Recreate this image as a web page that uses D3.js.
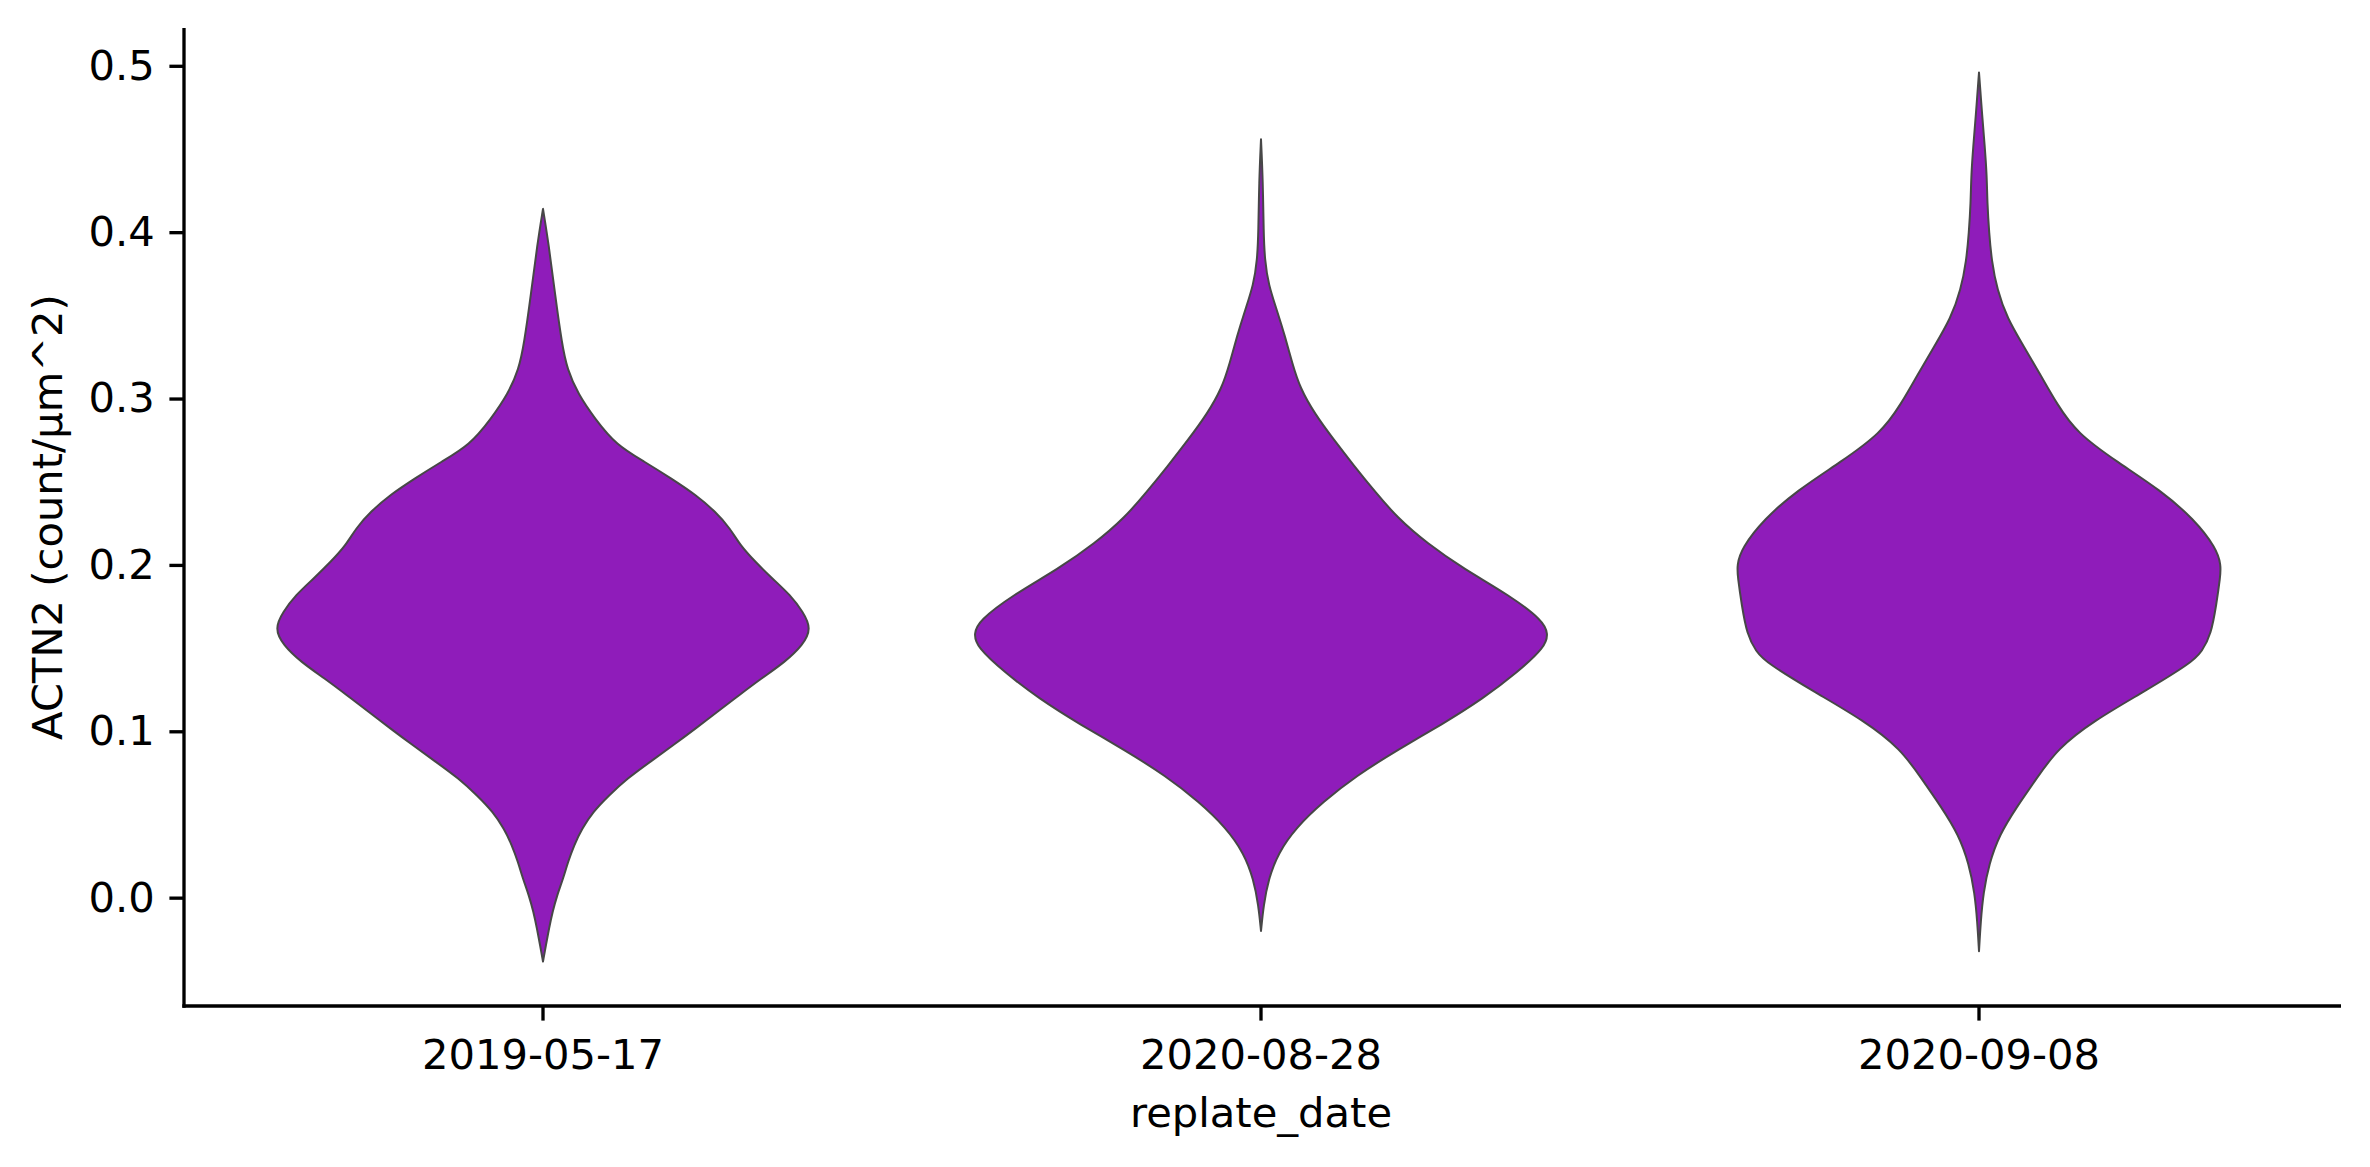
<!DOCTYPE html>
<html>
<head>
<meta charset="utf-8">
<script src="https://cdn.jsdelivr.net/npm/d3@7"></script>
<style>
  html, body { margin: 0; padding: 0; background: #fff; }
  svg { display: block; }
  text { font-family: "DejaVu Sans", sans-serif; fill: #000; }
</style>
</head>
<body>
<svg id="chart" width="2370" height="1167"></svg>
<script>
// ---- data ----
const categories = ["2019-05-17", "2020-08-28", "2020-09-08"];
const yTicks = [0.0, 0.1, 0.2, 0.3, 0.4, 0.5];
const xLabel = "replate_date";
const yLabel = "ACTN2 (count/\u00b5m^2)";

// kernel density profiles: [value, relative density]
const kde_2019_05_17 = [
  [0.414, 0], [0.3925, 0.020], [0.3626, 0.042], [0.3327, 0.066], [0.3177, 0.084],
  [0.3027, 0.122], [0.2878, 0.181], [0.2720, 0.255], [0.2620, 0.354], [0.2520, 0.446],
  [0.2420, 0.533], [0.2319, 0.601], [0.2219, 0.652], [0.2119, 0.686], [0.2019, 0.739],
  [0.1919, 0.798], [0.1818, 0.862], [0.1718, 0.905], [0.1618, 0.935], [0.1518, 0.905],
  [0.1417, 0.843], [0.1317, 0.760], [0.1217, 0.683], [0.1116, 0.606], [0.1016, 0.531],
  [0.0916, 0.453], [0.0816, 0.373], [0.0716, 0.293], [0.0615, 0.230], [0.0515, 0.174],
  [0.0415, 0.136], [0.0315, 0.108], [0.0214, 0.087], [0.0114, 0.070], [0.0014, 0.049],
  [-0.0087, 0.033], [-0.0186, 0.021], [-0.0287, 0.010], [-0.0384, 0]
];
const kde_2020_08_28 = [
  [0.4559, 0], [0.4304, 0.0066], [0.3994, 0.0091], [0.3839, 0.0129], [0.3683, 0.026],
  [0.3528, 0.056], [0.3372, 0.084], [0.3217, 0.108], [0.3062, 0.136], [0.2906, 0.188],
  [0.2751, 0.254], [0.2596, 0.324], [0.2440, 0.397], [0.2285, 0.474], [0.2130, 0.578],
  [0.1975, 0.707], [0.1819, 0.864], [0.1664, 0.983], [0.1586, 1.000], [0.1508, 0.990],
  [0.1353, 0.892], [0.1198, 0.774], [0.1042, 0.631], [0.0887, 0.474], [0.0731, 0.331],
  [0.0576, 0.216], [0.0421, 0.122], [0.0266, 0.059], [0.0110, 0.026], [-0.0045, 0.009],
  [-0.0200, 0]
];
const kde_2020_09_08 = [
  [0.4960, 0], [0.4691, 0.0115], [0.4518, 0.020], [0.4346, 0.027], [0.4173, 0.029],
  [0.4000, 0.035], [0.3828, 0.044], [0.3655, 0.063], [0.3483, 0.098], [0.3310, 0.157],
  [0.3137, 0.216], [0.2965, 0.272], [0.2792, 0.341], [0.2619, 0.481], [0.2447, 0.634],
  [0.2274, 0.749], [0.2102, 0.826], [0.1998, 0.843], [0.1929, 0.840], [0.1756, 0.826],
  [0.1584, 0.808], [0.1480, 0.777], [0.1411, 0.739], [0.1238, 0.575], [0.1065, 0.401],
  [0.0893, 0.272], [0.0720, 0.202], [0.0547, 0.132], [0.0375, 0.070], [0.0202, 0.035],
  [0.0029, 0.015], [-0.0143, 0.006], [-0.0322, 0]
];
const profiles = [kde_2019_05_17, kde_2020_08_28, kde_2020_09_08];

// ---- layout ----
const plot = { left: 184, right: 2338, top: 28, bottom: 1006 };
const fontPx = 41.67;
const lw = 3.33;
const tickLen = 14.6;
const tickPad = 14.6;
const fillColor = "#8f1cba";
const edgeColor = "#474747";

const svg = d3.select("#chart");

const x = d3.scaleBand().domain(categories).range([plot.left, plot.right]).padding(0);

const allVals = profiles.flat().map(d => d[0]);
const [vmin, vmax] = d3.extent(allVals);
const pad = (vmax - vmin) * 0.05;
const y = d3.scaleLinear().domain([vmin - pad, vmax + pad]).range([plot.bottom, plot.top]);

const maxDens = d3.max(profiles.flat(), d => d[1]);
const w = d3.scaleLinear().domain([0, maxDens]).range([0, x.bandwidth() * 0.4]);

// violins
categories.forEach((c, i) => {
  const cx = x(c) + x.bandwidth() / 2;
  const pts = profiles[i].slice().sort((a, b) => a[0] - b[0]);
  const area = d3.area()
    .curve(d3.curveBasis)
    .y(d => y(d[0]))
    .x0(d => cx - w(d[1]))
    .x1(d => cx + w(d[1]));
  svg.append("path")
    .attr("d", area(pts))
    .attr("fill", fillColor)
    .attr("stroke", edgeColor)
    .attr("stroke-width", 2)
    .attr("stroke-linejoin", "round");
});

// y axis
const yAxis = d3.axisLeft(y).tickValues(yTicks).tickFormat(d3.format(".1f"))
  .tickSize(tickLen).tickPadding(tickPad);
const gy = svg.append("g").attr("transform", `translate(${plot.left},0)`).call(yAxis);
gy.select(".domain").remove();
gy.selectAll(".tick line").attr("stroke", "#000").attr("stroke-width", lw);
gy.selectAll(".tick text").attr("font-size", fontPx).attr("font-family", "DejaVu Sans").attr("fill", "#000");

// x axis
const xAxis = d3.axisBottom(x).tickSize(tickLen).tickPadding(tickPad);
const gx = svg.append("g").attr("transform", `translate(0,${plot.bottom})`).call(xAxis);
gx.select(".domain").remove();
gx.selectAll(".tick line").attr("stroke", "#000").attr("stroke-width", lw);
gx.selectAll(".tick text").attr("font-size", fontPx).attr("font-family", "DejaVu Sans")
  .attr("fill", "#000").attr("dy", "0.82em");

// spines
svg.append("line")
  .attr("x1", plot.left).attr("x2", plot.left)
  .attr("y1", plot.top).attr("y2", plot.bottom + lw / 2)
  .attr("stroke", "#000").attr("stroke-width", lw);
svg.append("line")
  .attr("x1", plot.left - lw / 2).attr("x2", plot.right + 3)
  .attr("y1", plot.bottom).attr("y2", plot.bottom)
  .attr("stroke", "#000").attr("stroke-width", lw);

// axis labels
svg.append("text")
  .attr("x", (plot.left + plot.right) / 2)
  .attr("y", 1127)
  .attr("text-anchor", "middle")
  .attr("font-size", fontPx)
  .text(xLabel);

svg.append("text")
  .attr("transform", `translate(62,${(plot.top + plot.bottom) / 2}) rotate(-90)`)
  .attr("text-anchor", "middle")
  .attr("font-size", fontPx)
  .text(yLabel);
</script>
</body>
</html>
